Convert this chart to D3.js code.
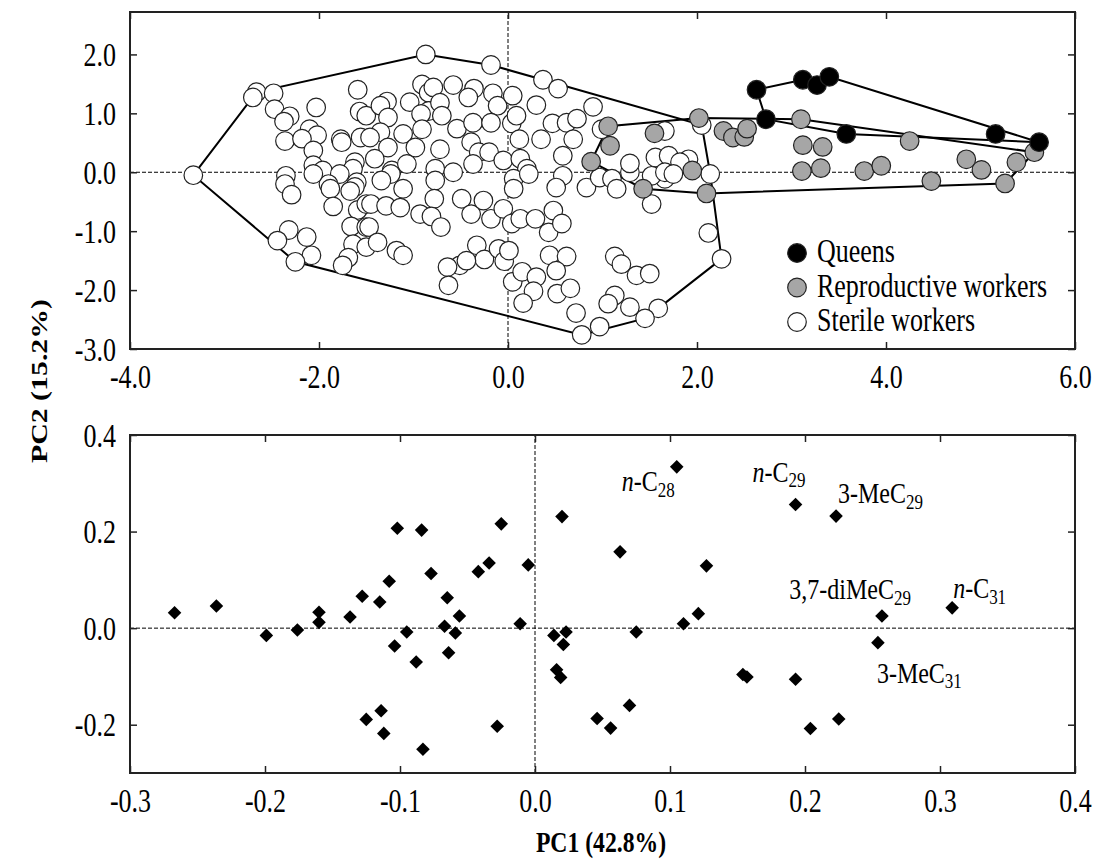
<!DOCTYPE html>
<html>
<head>
<meta charset="utf-8">
<script src="https://cdn.jsdelivr.net/npm/d3@7"></script>
<style>
body { margin: 0; background: #fff; }
svg { font-family: "Liberation Serif", "Times New Roman", serif; }
</style>
</head>
<body>
<svg id="chart" width="1099" height="864"></svg>
<script>
// ---- score plot (top panel) ----
const queensPC1 = [2.63, 3.12, 3.27, 3.40, 2.73, 3.58, 5.16, 5.62];
const queensPC2 = [1.40, 1.57, 1.48, 1.62, 0.90, 0.65, 0.65, 0.51];

const reproPC1 = [1.06, 1.08, 0.88, 1.55, 2.02, 2.28, 2.38, 2.50, 2.53, 3.10, 3.12, 3.33, 3.11,
  3.31, 1.95, 1.43, 2.10, 4.25, 3.77, 3.95, 4.48, 4.85, 5.01, 5.38, 5.57, 5.26];
const reproPC2 = [0.78, 0.45, 0.18, 0.66, 0.92, 0.70, 0.59, 0.60, 0.74, 0.90, 0.46, 0.43, 0.02,
  0.07, 0.03, -0.28, -0.36, 0.53, 0.02, 0.11, -0.15, 0.22, 0.04, 0.17, 0.34, -0.19];

const sterilePC1 = [
  -2.66, -2.70, -2.48, -2.47, -2.31, -2.37, -2.03, -2.10, -2.02, -2.36, -2.18, -2.06, -2.06, -1.96,
  -2.35, -3.33, -1.77, -1.76, -1.59, -1.57, -1.50, -1.56, -1.62, -1.64, -1.78, -1.90, -1.60,
  -2.36, -2.29, -2.06, -1.88, -1.85, -1.62, -1.67, -1.59, -1.50, -1.66, -1.50, -1.64, -1.69, -1.75,
  -2.32, -2.13, -2.44, -2.08, -2.25, -1.50,
  -0.87, -0.18, 0.37, 0.53, 0.90, -0.91, -0.84, -0.79, -0.58, -0.36, -0.42, -0.16, -0.11, 0.05, 0.30,
  -1.28, -1.35, -1.04, -0.84, -0.72, -0.70, -1.27, -0.92, -1.35, -1.11, -0.91, -0.54, -0.37, -0.18,
  0.04, 0.09, 0.47, 0.62, 0.73, 0.69, 0.35, 0.12, 0.58, 0.99, -1.46, -1.27, -0.98, -0.72, -0.39,
  -0.31, -0.20, -0.05, 0.13, 0.20, -0.37, -0.77, -1.23, -1.41, -1.07, -0.58, 0.58, 0.06,
  -1.24, -1.11, -1.34, -1.45, -1.29, -1.14, -1.47, -1.38, -1.18, -1.11, -0.77, -0.78, -0.93, -0.81,
  -0.71, -0.49, -0.39, -0.26, -0.18, -0.05, 0.04, 0.13, 0.29, 0.43, 0.48, 0.57, 0.06, 0.22, 0.51,
  0.83, 0.97, -0.33, -0.25, -0.10, -0.04, 0.01, -0.51, -0.64, -0.63, -0.44, 0.05, 0.15, 0.30, 0.27,
  0.16, 0.44, 0.62, 0.51, 0.52, 0.66, 0.72, 0.78, 0.97,
  1.10, 1.15, 1.29, 1.66, 1.52, 2.14, 2.12, 2.26, 1.13, 1.20, 1.36, 1.50, 1.13, 1.06, 1.29, 1.59, 1.45,
  1.66, 1.56, 1.70, 1.29, 1.91, 1.82, 1.52, 1.66, 1.75, 2.05];
const sterilePC2 = [
  1.36, 1.27, 1.34, 1.07, 0.95, 0.86, 1.10, 0.73, 0.63, 0.53, 0.57, 0.37, 0.12, 0.03,
  -0.06, -0.05, 0.56, 0.51, 1.40, 1.03, 0.96, 0.59, 0.17, 0.06, -0.03, -0.20, -0.17,
  -0.20, -0.38, -0.03, -0.28, -0.58, -0.25, -0.32, -0.64, -0.54, -0.92, -0.93, -1.22, -1.45, -1.58,
  -0.98, -1.10, -1.16, -1.41, -1.52, -1.27,
  2.00, 1.82, 1.57, 1.42, 1.11, 1.49, 1.35, 1.44, 1.48, 1.42, 1.27, 1.34, 1.13, 1.30, 1.14,
  1.20, 1.13, 1.19, 1.04, 1.18, 0.96, 0.93, 0.99, 0.68, 0.65, 0.73, 0.74, 0.84, 0.84,
  0.83, 0.96, 0.83, 0.84, 0.91, 0.56, 0.56, 0.56, 0.28, 0.73, 0.59, 0.42, 0.42, 0.39, 0.51,
  0.34, 0.34, 0.20, 0.23, 0.06, 0.14, 0.06, 0.03, 0.23, 0.14, 0.00, -0.06, -0.11,
  -0.03, -0.28, -0.14, -0.54, -0.57, -0.60, -0.93, -1.19, -1.33, -1.41, -0.14, -0.45, -0.71, -0.75,
  -0.93, -0.45, -0.71, -0.48, -0.79, -0.62, -0.87, -0.79, -0.79, -1.02, -0.65, -0.87, -0.28, -0.03, -0.26,
  -0.26, -0.09, -1.24, -1.48, -1.30, -1.51, -1.33, -1.58, -1.61, -1.92, -1.50, -1.86, -1.69, -1.78, -2.02,
  -2.22, -1.41, -1.43, -1.67, -2.06, -1.97, -2.39, -2.76, -2.62,
  -0.11, -0.28, 0.00, -0.11, -0.54, -0.03, -1.03, -1.47, -1.43, -1.56, -1.75, -1.72, -2.09, -2.23, -2.29, -2.31, -2.48,
  0.70, 0.25, 0.28, 0.15, 0.22, 0.17, -0.06, 0.00, -0.03, 0.80];

const groupNames = ["Queens", "Reproductive workers", "Sterile workers"];
const scoreXTicks = [-4, -2, 0, 2, 4, 6];
const scoreYTicks = [-3, -2, -1, 0, 1, 2];

// ---- loading plot (bottom panel) ----
const loadingPC1 = [-0.267, -0.236, -0.199, -0.176, -0.160, -0.160, -0.137, -0.128, -0.115, -0.108,
  -0.102, -0.084, -0.077, -0.065, -0.067, -0.095, -0.104, -0.088, -0.064, -0.125, -0.114, -0.112, -0.083,
  -0.056, -0.059, -0.042, -0.034, -0.025, -0.005, -0.011, -0.028, 0.020, 0.014, 0.023, 0.021, 0.016,
  0.019, 0.063, 0.075, 0.105, 0.127, 0.121, 0.110, 0.046, 0.056, 0.070, 0.154, 0.157,
  0.193, 0.223, 0.257, 0.254, 0.309, 0.193, 0.204, 0.225];
const loadingPC2 = [0.032, 0.046, -0.015, -0.004, 0.033, 0.012, 0.023, 0.066, 0.054, 0.097,
  0.207, 0.203, 0.113, 0.063, 0.004, -0.008, -0.037, -0.070, -0.051, -0.189, -0.171, -0.218, -0.251,
  0.025, -0.010, 0.117, 0.135, 0.216, 0.131, 0.009, -0.203, 0.231, -0.015, -0.008, -0.034, -0.086,
  -0.102, 0.158, -0.008, 0.334, 0.129, 0.030, 0.009, -0.187, -0.207, -0.160, -0.096, -0.101,
  0.256, 0.232, 0.025, -0.030, 0.042, -0.106, -0.208, -0.188];

// labelled compounds: italic prefix, main text, subscript, index into loading arrays
const labelPrefix = ["n", "n", "", "", "n", ""];
const labelMain = ["-C", "-C", "3-MeC", "3,7-diMeC", "-C", "3-MeC"];
const labelSub = ["28", "29", "29", "29", "31", "31"];
const labelPoint = [39, 48, 49, 50, 52, 51];

const loadXTicks = [-0.3, -0.2, -0.1, 0.0, 0.1, 0.2, 0.3, 0.4];
const loadYTicks = [-0.2, 0.0, 0.2, 0.4];

// ---------------------------------------------------------------
const svg = d3.select("#chart");
const fmt = d => d.toFixed(1);
const STRETCH = 1.26; // the original figure is drawn taller than wide

const xTop = d3.scaleLinear().domain([-4, 6]).range([130, 1075]);
const yTop = d3.scaleLinear().domain([-3, 2.72]).range([349, 12]);
const xBot = d3.scaleLinear().domain([-0.3, 0.4]).range([130, 1075]);
const yBot = d3.scaleLinear().domain([-0.3, 0.4]).range([773, 435]);

function frame(x, y, xTicks, yTicks) {
  const g = svg.append("g");
  const [x0, x1] = x.range(), [y0, y1] = y.range();

  // reference lines at zero
  g.append("line").attr("x1", x(0)).attr("x2", x(0)).attr("y1", y0).attr("y2", y1)
    .attr("stroke", "#000").attr("stroke-width", 1).attr("stroke-dasharray", "4,2");
  g.append("line").attr("x1", x0).attr("x2", x1).attr("y1", y(0)).attr("y2", y(0))
    .attr("stroke", "#000").attr("stroke-width", 1).attr("stroke-dasharray", "4,2");

  const bottom = g.append("g").attr("transform", `translate(0,${y0})`)
    .call(d3.axisBottom(x).tickValues(xTicks).tickSizeInner(-7).tickSizeOuter(0).tickFormat(fmt));
  g.append("g").attr("transform", `translate(0,${y1})`)
    .call(d3.axisTop(x).tickValues(xTicks).tickSizeInner(-7).tickSizeOuter(0).tickFormat(""));
  const left = g.append("g").attr("transform", `translate(${x0},0)`)
    .call(d3.axisLeft(y).tickValues(yTicks).tickSizeInner(-7).tickSizeOuter(0).tickPadding(14).tickFormat(fmt));
  g.append("g").attr("transform", `translate(${x1},0)`)
    .call(d3.axisRight(y).tickValues(yTicks).tickSizeInner(-7).tickSizeOuter(0).tickFormat(""));

  g.selectAll(".domain").remove();
  g.selectAll(".tick line").attr("stroke", "#222").attr("stroke-width", 1.5);
  g.selectAll(".tick text").attr("font-size", 26).attr("fill", "#000")
    .attr("font-family", "Liberation Serif, Times New Roman, serif");
  bottom.selectAll(".tick text").attr("y", null).attr("dy", null)
    .attr("transform", `translate(0,39) scale(1,${STRETCH})`);
  left.selectAll(".tick text").attr("dy", null)
    .attr("transform", `translate(0,11) scale(1,${STRETCH})`);

  g.append("rect").attr("x", x0).attr("y", y1).attr("width", x1 - x0).attr("height", y0 - y1)
    .attr("fill", "none").attr("stroke", "#222").attr("stroke-width", 2);
  return g;
}

// ---- top panel ----
frame(xTop, yTop, scoreXTicks, scoreYTicks);

const groups = [
  { pts: d3.zip(sterilePC1, sterilePC2), fill: "#ffffff" },
  { pts: d3.zip(reproPC1, reproPC2), fill: "#a6a6a6" },
  { pts: d3.zip(queensPC1, queensPC2), fill: "#000000" }
];

const hullLine = d3.line().x(d => xTop(d[0])).y(d => yTop(d[1])).curve(d3.curveLinearClosed);
svg.append("g").selectAll("path").data(groups).join("path")
  .attr("d", d => hullLine(d3.polygonHull(d.pts)))
  .attr("fill", "none").attr("stroke", "#000").attr("stroke-width", 2);

groups.forEach(gr => {
  svg.append("g").selectAll("circle").data(gr.pts).join("circle")
    .attr("cx", d => xTop(d[0])).attr("cy", d => yTop(d[1])).attr("r", 9.3)
    .attr("fill", gr.fill).attr("stroke", "#222").attr("stroke-width", 1.2);
});

// legend
const legendFill = d3.scaleOrdinal().domain(groupNames).range(["#000000", "#a6a6a6", "#ffffff"]);
const legend = svg.append("g").attr("transform", "translate(797,253)");
legend.selectAll("g").data(groupNames).join("g")
  .attr("transform", (d, i) => `translate(0,${i * 34.5})`)
  .each(function (d) {
    const item = d3.select(this);
    item.append("circle").attr("r", 9.3).attr("fill", legendFill(d)).attr("stroke", "#222").attr("stroke-width", 1.2);
    item.append("text").attr("transform", `translate(20,9) scale(1,${STRETCH})`)
      .attr("font-size", 26).text(d);
  });

// ---- bottom panel ----
frame(xBot, yBot, loadXTicks, loadYTicks);

const diamond = d3.symbol().type(d3.symbolSquare).size(92);
const loads = d3.zip(loadingPC1, loadingPC2);
svg.append("g").selectAll("path").data(loads).join("path")
  .attr("d", diamond)
  .attr("transform", d => `translate(${xBot(d[0])},${yBot(d[1])}) rotate(45)`)
  .attr("fill", "#000");

// compound labels: pixel offsets from the labelled point
const labelDx = [-55, -43, 2, 29, 1, -1];
const labelDy = [24, -23, -13, -17, -10, 40];
const labelAnchor = ["start", "start", "start", "end", "start", "start"];
labelMain.forEach((m, i) => {
  const p = loads[labelPoint[i]];
  const t = svg.append("text")
    .attr("transform", `translate(${xBot(p[0]) + labelDx[i]},${yBot(p[1]) + labelDy[i]}) scale(1,${STRETCH})`)
    .attr("font-size", 24).attr("text-anchor", labelAnchor[i]);
  if (labelPrefix[i]) t.append("tspan").attr("font-style", "italic").text(labelPrefix[i]);
  t.append("tspan").text(m);
  t.append("tspan").attr("font-size", 17).attr("dy", 4.5).text(labelSub[i]);
});

// axis titles
svg.append("text").attr("transform", `translate(601,852) scale(1,${STRETCH})`).attr("text-anchor", "middle")
  .attr("font-size", 23.7).attr("font-weight", "bold").text("PC1 (42.8%)");
svg.append("text").attr("transform", `translate(47,381) rotate(-90) scale(${STRETCH},1)`).attr("text-anchor", "middle")
  .attr("font-size", 23.7).attr("font-weight", "bold").text("PC2 (15.2%)");
</script>
</body>
</html>
